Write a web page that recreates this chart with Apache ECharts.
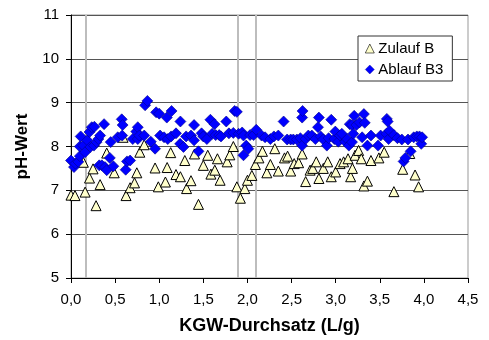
<!DOCTYPE html>
<html><head><meta charset="utf-8">
<script src="https://cdn.jsdelivr.net/npm/echarts@6/dist/echarts.min.js"></script>
<style>html,body{margin:0;padding:0;background:#fff}#c{width:489px;height:340px}</style>
</head><body><div id="c"></div>
<script>
const seriesNames = ["Zulauf B", "Ablauf B3"];
const zulaufX = [0,0.045,0.16,0.14,0.21,0.25,0.284,0.33,0.405,0.49,0.59,0.624,0.67,0.72,0.746,0.78,0.83,0.953,0.99,1.07,1.09,1.13,1.19,1.24,1.29,1.31,1.36,1.40,1.445,1.50,1.55,1.586,1.63,1.66,1.69,1.77,1.80,1.84,1.88,1.92,1.97,2.0,2.05,2.09,2.13,2.17,2.22,2.26,2.31,2.35,2.42,2.455,2.49,2.53,2.58,2.62,2.66,2.71,2.74,2.78,2.81,2.86,2.91,2.95,3.0,3.05,3.09,3.14,3.17,3.19,3.22,3.26,3.29,3.32,3.36,3.40,3.49,3.55,3.66,3.76,3.84,3.90,3.94];
const zulaufY = [6.89,6.88,6.96,7.64,7.28,7.49,6.65,7.13,7.85,7.40,8.21,6.88,7.06,7.17,7.40,7.87,8.04,7.51,7.08,7.19,7.52,7.86,7.36,7.31,7.68,7.04,7.22,7.83,6.68,7.57,7.80,7.37,7.46,7.72,7.23,7.65,7.81,8.0,7.08,6.82,7.04,7.23,7.34,7.59,7.74,7.89,7.40,7.59,7.95,7.44,7.74,7.78,7.44,7.61,7.63,7.83,7.20,7.46,7.50,7.65,7.27,7.50,7.65,7.31,7.42,7.61,7.65,7.72,7.31,7.50,7.80,7.91,7.72,7.10,7.21,7.68,7.74,7.87,6.97,7.48,7.84,7.35,7.08];
const ablaufX = [0,0.034,0.05,0.083,0.1,0.1,0.11,0.14,0.16,0.185,0.21,0.235,0.265,0.22,0.26,0.29,0.31,0.33,0.32,0.35,0.375,0.385,0.405,0.44,0.45,0.48,0.53,0.575,0.585,0.58,0.62,0.635,0.67,0.70,0.74,0.757,0.757,0.775,0.83,0.84,0.866,0.905,0.953,0.965,1.0,1.01,1.055,1.086,1.097,1.135,1.14,1.19,1.24,1.237,1.275,1.305,1.36,1.395,1.395,1.445,1.48,1.50,1.54,1.58,1.60,1.627,1.64,1.68,1.70,1.76,1.79,1.84,1.855,1.88,1.90,1.94,1.955,1.955,1.986,2.01,2.03,2.07,2.10,2.16,2.20,2.26,2.30,2.35,2.41,2.45,2.49,2.52,2.56,2.60,2.62,2.62,2.625,2.66,2.69,2.73,2.77,2.80,2.81,2.83,2.86,2.90,2.92,2.95,2.985,2.996,3.03,3.05,3.07,3.11,3.13,3.15,3.16,3.185,3.185,3.20,3.21,3.235,3.27,3.30,3.32,3.33,3.36,3.40,3.48,3.51,3.575,3.58,3.59,3.60,3.61,3.66,3.70,3.75,3.77,3.79,3.82,3.85,3.885,3.92,3.95,3.97,3.98];
const ablaufY = [7.68,7.53,7.61,7.65,7.78,8.0,8.23,8.02,7.87,8.14,8.33,8.44,8.45,7.99,8.02,8.10,8.17,8.25,7.57,7.57,8.51,7.53,7.46,7.74,8.10,7.55,8.21,8.62,8.49,8.25,7.47,7.66,7.68,8.17,8.34,8.44,8.17,8.25,8.25,8.94,9.04,8.11,7.95,8.78,8.75,8.25,8.21,8.66,8.17,8.23,8.81,8.30,8.57,8.06,7.99,8.23,8.25,8.49,8.14,7.89,8.30,8.23,8.17,8.61,8.29,8.51,8.26,8.26,8.23,8.57,8.30,8.31,8.81,8.79,8.29,8.32,8.25,7.80,8.02,7.95,8.26,8.26,8.38,8.25,8.21,8.17,8.23,8.25,8.57,8.16,8.16,8.16,8.16,8.19,8.02,8.66,8.81,8.17,8.25,8.25,8.17,8.44,8.66,8.23,8.16,8.02,8.19,8.61,8.17,8.34,8.11,8.25,8.29,8.11,8.17,8.02,8.51,8.49,8.10,8.29,8.70,8.49,8.55,8.21,8.74,8.54,8.02,8.25,8.02,8.25,8.29,8.63,8.57,8.17,8.36,8.26,8.19,8.16,7.66,7.74,8.16,7.89,8.21,8.23,8.23,8.06,8.21];
const verticalLines = [0.17, 1.89, 2.09];
const xTicks = {min: 0, max: 4.5, interval: 0.5};
const yTicks = {min: 5, max: 11, interval: 1};

const font = 'Liberation Sans, Arial, sans-serif';
const chart = echarts.init(document.getElementById('c'), null, {renderer: 'canvas'});
chart.setOption({
  animation: false,
  backgroundColor: '#fff',
  grid: {left: 71, right: 21, top: 15, bottom: 60, show: true, borderColor: '#999', borderWidth: 1, backgroundColor: 'transparent'},
  legend: {
    orient: 'vertical', left: 358, top: 36,
    data: [
      {name: seriesNames[0], icon: 'triangle', itemStyle: {color: '#ffffcc', borderColor: '#000', borderWidth: 0.6}},
      {name: seriesNames[1], icon: 'diamond', itemStyle: {color: '#0000ff', borderColor: '#00008b', borderWidth: 0.4}}
    ],
    backgroundColor: '#fff', borderColor: '#333', borderWidth: 1,
    padding: [5, 9, 4, 7], itemGap: 6, itemWidth: 9, itemHeight: 9,
    textStyle: {fontFamily: font, fontSize: 15, color: '#000', padding: [0,0,0,-1]}
  },
  xAxis: {
    type: 'value', min: xTicks.min, max: xTicks.max, interval: xTicks.interval,
    name: 'KGW-Durchsatz (L/g)', nameLocation: 'middle', nameGap: 39,
    nameTextStyle: {fontFamily: font, fontSize: 18, fontWeight: 'bold', color: '#000'},
    axisLine: {show: true, lineStyle: {color: '#000', width: 1}},
    axisTick: {show: true, length: 5, lineStyle: {color: '#000'}},
    axisLabel: {fontFamily: font, fontSize: 15, color: '#000', margin: 14,
      formatter: v => v.toFixed(1).replace('.', ',')},
    splitLine: {show: false}
  },
  yAxis: {
    type: 'value', min: yTicks.min, max: yTicks.max, interval: yTicks.interval,
    name: 'pH-Wert', nameLocation: 'middle', nameGap: 40,
    nameTextStyle: {fontFamily: font, fontSize: 17, fontWeight: 'bold', color: '#000'},
    axisLine: {show: true, lineStyle: {color: '#000', width: 1}},
    axisTick: {show: true, length: 5, lineStyle: {color: '#000'}},
    axisLabel: {fontFamily: font, fontSize: 15, color: '#000', margin: 12},
    splitLine: {show: true, lineStyle: {color: '#555', width: 1}}
  },
  series: [
    {
      name: seriesNames[0], type: 'scatter', symbol: 'triangle', symbolSize: 10, z: 2,
      itemStyle: {color: '#ffffcc', borderColor: '#000', borderWidth: 1, opacity: 1},
      data: zulaufX.map((x, i) => [x, zulaufY[i]]),
      markLine: {
        silent: true, symbol: ['none', 'none'], label: {show: false},
        lineStyle: {color: '#bdbdbd', width: 2, type: 'solid'},
        data: verticalLines.map(v => ({xAxis: v})), z: 1
      }
    },
    {
      name: seriesNames[1], type: 'scatter', symbol: 'diamond', symbolSize: 11, z: 3,
      itemStyle: {color: '#0000ff', borderColor: '#00008b', borderWidth: 0.6, opacity: 1},
      data: ablaufX.map((x, i) => [x, ablaufY[i]])
    }
  ]
});
</script></body></html>
